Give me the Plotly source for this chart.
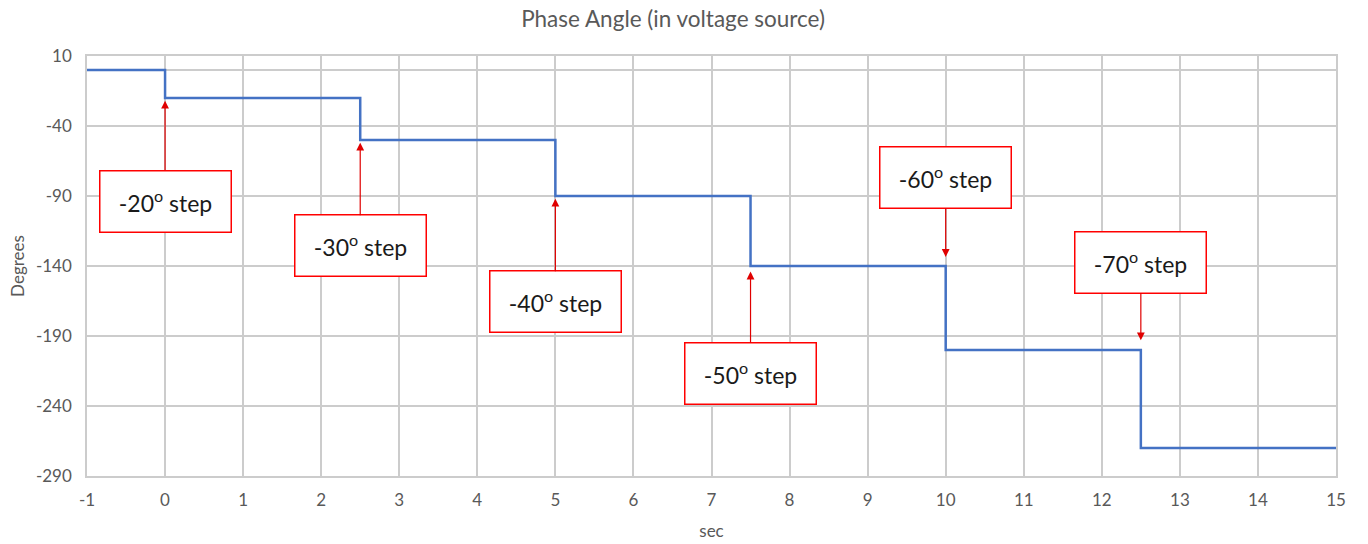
import plotly.graph_objects as go

# Data
time_s = [-1, 0, 2.5, 5, 7.5, 10, 12.5, 15]
phase_deg = [0, -20, -50, -90, -140, -200, -270, -270]

x_ticks = list(range(-1, 16))
x_tick_text = [str(v) for v in x_ticks]
y_ticks = [10, -40, -90, -140, -190, -240, -290]
y_tick_text = [str(v) for v in y_ticks]

step_labels = ["-20", "-30", "-40", "-50", "-60", "-70"]
step_times = [0, 2.5, 5, 7.5, 10, 12.5]
label_y = [-93.6, -125.7, -165.7, -216.8, -76.8, -137.5]
tip_y = [-22, -52, -92, -144, -133.5, -193]

FONT = "Lato"
GRAY = "#595959"
GRID = "#cccccc"

fig = go.Figure()
fig.add_trace(go.Scatter(
    x=time_s, y=phase_deg, mode="lines", line_shape="hv",
    line=dict(color="#4472C4", width=2.5), showlegend=False, hoverinfo="skip"))

annotations = []
for lab, t, ly, ty in zip(step_labels, step_times, label_y, tip_y):
    annotations.append(dict(
        x=t, y=ty, xref="x", yref="y",
        ax=t, ay=ly, axref="x", ayref="y",
        text=f"{lab}<sup>o</sup> step",
        showarrow=True, arrowhead=2, arrowsize=1.3, arrowwidth=1.2,
        arrowcolor="#e00000", startstandoff=0,
        font=dict(family=FONT, size=23, color="#1a1a1a"),
        bgcolor="white", bordercolor="#ff0000", borderwidth=1.5,
        width=128, height=58, align="center", valign="middle",
    ))

fig.update_layout(
    width=1368, height=544,
    margin=dict(l=87, r=32, t=56, b=68),
    paper_bgcolor="white", plot_bgcolor="white",
    title=dict(text="Phase Angle (in voltage source)", x=0.492, xanchor="center",
               y=0.965, yanchor="middle",
               font=dict(family=FONT, size=22.5, color=GRAY)),
    annotations=annotations,
)
fig.update_xaxes(
    range=[-1, 15], tickvals=x_ticks, ticktext=x_tick_text,
    showgrid=True, gridcolor=GRID, gridwidth=1.5,
    zeroline=True, zerolinecolor=GRID, zerolinewidth=1.5,
    showline=True, linecolor=GRID, linewidth=1.5, mirror=True,
    ticks="", ticklabelstandoff=8, automargin=False,
    tickfont=dict(family=FONT, size=17, color=GRAY),
    title=dict(text="sec", font=dict(family=FONT, size=17, color=GRAY), standoff=16),
)
fig.update_yaxes(
    range=[-290, 10], tickvals=y_ticks, ticktext=y_tick_text,
    showgrid=True, gridcolor=GRID, gridwidth=1.5,
    zeroline=True, zerolinecolor=GRID, zerolinewidth=1.5,
    showline=True, linecolor=GRID, linewidth=1.5, mirror=True,
    ticks="", ticklabelstandoff=10, automargin=False,
    tickfont=dict(family=FONT, size=17, color=GRAY),
    title=dict(text="Degrees", font=dict(family=FONT, size=17, color=GRAY), standoff=7),
)

fig.write_html("out.html")
